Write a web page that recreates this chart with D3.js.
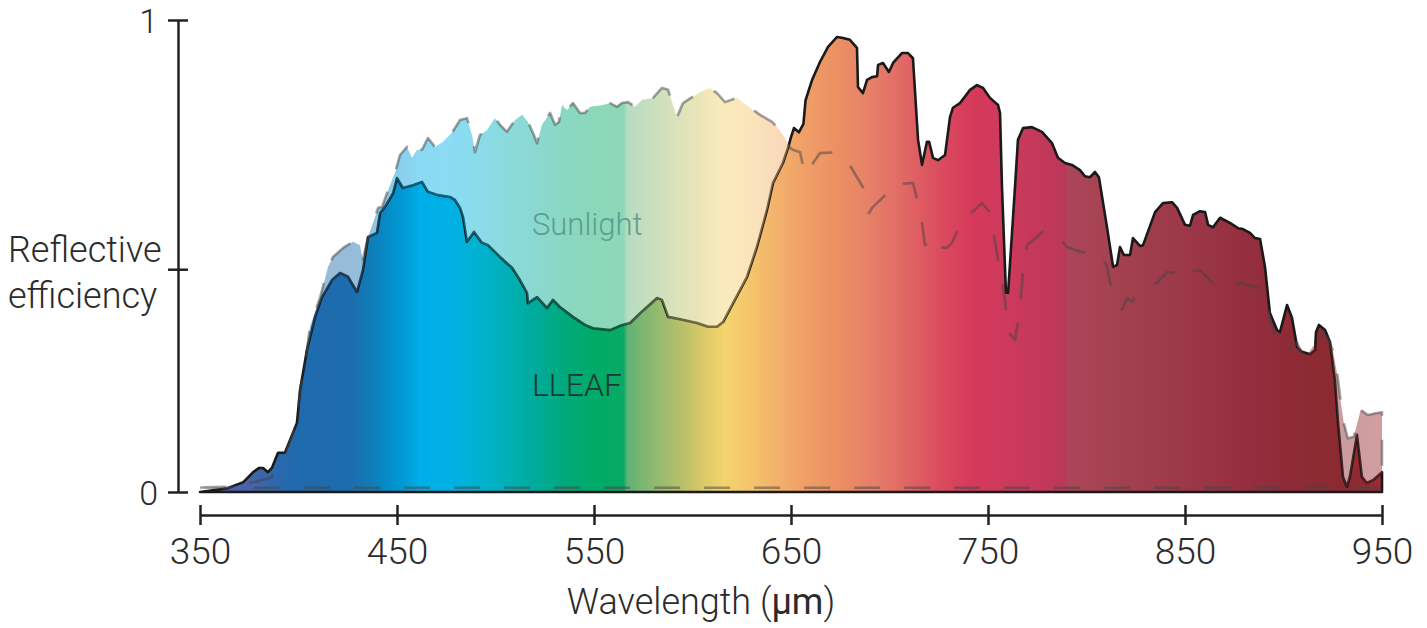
<!DOCTYPE html>
<html>
<head>
<meta charset="utf-8">
<script src="https://cdn.jsdelivr.net/npm/d3@7"></script>
<style>
  body { margin: 0; background: #fff; }
  text { font-family: Roboto, "Open Sans", sans-serif; font-weight: 300; }
</style>
</head>
<body>
<div id="chart"></div>
<script>
// Data
// =================================
var xTicks = [350, 450, 550, 650, 750, 850, 950];
var yTicks = [0, 0.472, 1];
var yTickLabels = ["0", "", "1"];

// LLEAF reflectance (solid outline)
var leafWl = [350, 364, 372, 377, 380, 382, 384.5, 386.5, 389.6, 393.1, 399.2, 400.8, 404.3, 408.4, 411.9, 417, 421.1, 425.1, 429.7, 432.7,
  435.3, 439.8, 441.4, 443.9, 448, 450, 453, 458.1, 462.7, 465.7, 470.8, 476.9, 479.4, 482, 483.5, 485.5, 489.1, 493.1, 496.2, 502.3,
  508.4, 512.4, 516, 516.5, 521.1, 526.1, 529.2, 532.7, 539.3, 545.4, 549.5, 558.1, 563.2, 568.3, 573.4, 576.9, 582, 584.5, 587.6, 592.6,
  602.3, 607.9, 612.4, 615.5, 620.6, 627.7, 632.7, 637.8, 640.9, 645.9, 648.5, 650, 651.5, 654, 656.3, 657.4, 660.7, 664.7, 668.8, 673.4,
  676.4, 679.9, 683.5, 684, 686.5, 688.6, 691.1, 693.7, 694.2, 696.7, 699.7, 701.8, 706.3, 709.4, 711.9, 714.5, 716.5, 719, 720.1, 722.1,
  724.6, 728.2, 730.7, 732.2, 735.8, 740.9, 744.4, 747.5, 751, 755.1, 756.1, 757.1, 759.1, 760.2, 763.7, 765.2, 767.8, 772.3, 777.4, 782.5,
  785.5, 789.1, 792.6, 796.7, 799.2, 801.8, 804.3, 806.3, 810.4, 813.5, 815.5, 817, 819, 822.1, 823.6, 827.2, 828.7, 834.8, 838.8, 843.4,
  846, 850, 852.5, 854.1, 857.6, 860.2, 861.7, 864.2, 867.8, 872.8, 876.9, 879.4, 883, 885.5, 888.1, 890.6, 893.1, 896.7, 898.2, 901.8,
  904.3, 906.9, 909.4, 913.5, 916, 916.5, 918, 921.1, 923.6, 926.1, 927.7, 930.2, 932.2, 933.7, 937.3, 939.8, 942.3, 945.4, 950];
var leafVal = [0, 0.008, 0.021, 0.042, 0.051, 0.051, 0.042, 0.051, 0.083, 0.083, 0.146, 0.216, 0.301, 0.371, 0.413, 0.449, 0.464, 0.456, 0.424, 0.47,
  0.54, 0.549, 0.591, 0.604, 0.633, 0.665, 0.644, 0.65, 0.657, 0.636, 0.629, 0.625, 0.619, 0.602, 0.583, 0.53, 0.551, 0.528, 0.523, 0.498,
  0.475, 0.449, 0.422, 0.4, 0.413, 0.39, 0.407, 0.392, 0.371, 0.354, 0.347, 0.343, 0.352, 0.358, 0.379, 0.392, 0.411, 0.407, 0.371, 0.367,
  0.358, 0.35, 0.35, 0.36, 0.4, 0.456, 0.519, 0.597, 0.655, 0.697, 0.729, 0.752, 0.771, 0.762, 0.78, 0.83, 0.873, 0.911, 0.943, 0.964,
  0.962, 0.958, 0.941, 0.858, 0.845, 0.873, 0.879, 0.881, 0.905, 0.909, 0.89, 0.909, 0.93, 0.93, 0.919, 0.746, 0.693, 0.742, 0.742, 0.708,
  0.703, 0.714, 0.794, 0.814, 0.824, 0.852, 0.862, 0.856, 0.835, 0.82, 0.803, 0.646, 0.422, 0.422, 0.646, 0.746, 0.771, 0.773, 0.763, 0.739,
  0.708, 0.697, 0.693, 0.682, 0.669, 0.667, 0.678, 0.667, 0.561, 0.477, 0.481, 0.519, 0.502, 0.502, 0.538, 0.521, 0.523, 0.593, 0.612, 0.614,
  0.602, 0.566, 0.564, 0.587, 0.595, 0.593, 0.566, 0.561, 0.581, 0.57, 0.559, 0.557, 0.549, 0.538, 0.536, 0.477, 0.379, 0.343, 0.339, 0.396,
  0.369, 0.307, 0.297, 0.292, 0.301, 0.339, 0.354, 0.343, 0.318, 0.237, 0.146, 0.032, 0.011, 0.032, 0.121, 0.032, 0.019, 0.025, 0.042];

// Sunlight (dashed outline)
var sunBase = 0.009;
var sunWl = [350, 352.5, 364, 372, 380, 386, 389.6, 393, 399.2, 400.8, 404.3, 405.8, 410.9, 415, 417.5, 422.6, 427.7, 431.2, 432.7, 435.3,
  437.8, 440.4, 442.4, 444.9, 447.5, 449, 451.5, 455.1, 457.6, 460.2, 462.7, 465.7, 469.3, 473.4, 477.9, 482, 485.5, 488.1, 489.6, 492.1,
  495.7, 499.7, 502.3, 505.8, 509.9, 513.5, 516.5, 519, 521.1, 523.6, 527.7, 530.2, 532.2, 533.8, 536.3, 539.3, 542.9, 545.4, 548, 554.6,
  558.1, 561.7, 564.2, 567.3, 570.8, 574.4, 580, 584.5, 587.6, 590.1, 592.1, 595.2, 603.8, 608.9, 612.4, 616.5, 622.6, 629.2, 634.3, 640.4,
  643.4, 647, 649.5, 651, 654.6, 657.1, 664.7, 673.9, 678.9, 686.5, 689.6, 691.1, 699.7, 701.3, 703.8, 706.9, 711.9, 716, 718, 723.1,
  724.6, 729.2, 731.7, 738.3, 741.9, 746.9, 751, 758.6, 760.2, 763.7, 766.2, 767.8, 769.8, 778.9, 784, 790.1, 797.7, 806.9, 810.4, 811.9,
  818, 820.6, 823.1, 826.1, 836.3, 840.9, 843.9, 846.4, 848.5, 857.6, 861.7, 866.8, 879, 885.5, 889.1, 890.6, 894.7, 897.2, 900.8, 906.9,
  909.4, 911.9, 919.9, 922.5, 925, 927.5, 929.1, 930.6, 932.6, 935.7, 939.2, 942.8, 946.8, 950];
var sunVal = [0.009, 0.01, 0.011, 0.015, 0.024, 0.03, 0.055, 0.078, 0.146, 0.216, 0.301, 0.35, 0.411, 0.477, 0.498, 0.517, 0.53, 0.523, 0.492, 0.54,
  0.57, 0.602, 0.604, 0.633, 0.661, 0.676, 0.714, 0.731, 0.708, 0.725, 0.725, 0.75, 0.731, 0.742, 0.761, 0.788, 0.792, 0.756, 0.72, 0.756,
  0.767, 0.792, 0.778, 0.763, 0.788, 0.799, 0.784, 0.761, 0.739, 0.778, 0.803, 0.778, 0.784, 0.82, 0.809, 0.824, 0.803, 0.803, 0.816, 0.82,
  0.824, 0.816, 0.824, 0.826, 0.816, 0.831, 0.835, 0.856, 0.852, 0.82, 0.794, 0.824, 0.847, 0.856, 0.845, 0.826, 0.835, 0.814, 0.799, 0.784,
  0.771, 0.75, 0.729, 0.725, 0.72, 0.672, 0.718, 0.72, 0.699, 0.646, 0.591, 0.602, 0.636, 0.631, 0.644, 0.653, 0.655, 0.587, 0.523, 0.54,
  0.519, 0.517, 0.528, 0.587, 0.593, 0.612, 0.593, 0.407, 0.339, 0.322, 0.386, 0.47, 0.523, 0.555, 0.549, 0.519, 0.508, 0.506, 0.477, 0.445,
  0.386, 0.411, 0.403, 0.422, 0.445, 0.466, 0.464, 0.477, 0.464, 0.47, 0.453, 0.432, 0.443, 0.434, 0.432, 0.413, 0.343, 0.316, 0.297, 0.316,
  0.294, 0.29, 0.337, 0.326, 0.301, 0.244, 0.189, 0.146, 0.114, 0.117, 0.174, 0.163, 0.167, 0.169];

// Spectrum colour stops (wavelength, colour)
var spectrumStops = [
  [350, "#5b5ca8"], [375, "#4862a9"], [390, "#2a68ad"], [400, "#1f6aad"], [428, "#1c6dae"], [440, "#0a82bd"], [452, "#0098d4"],
  [462, "#00aee8"], [478, "#00b1e4"], [492, "#00b2cf"], [506, "#00b0b6"], [520, "#00ab9c"], [535, "#00a97c"], [550, "#00aa67"],
  [565, "#08aa64"], [567, "#62b276"], [582, "#94ba70"], [596, "#bcc168"], [606, "#dcc968"], [616, "#f3d46c"], [628, "#f5c66c"],
  [642, "#f3b26b"], [656, "#f0a067"], [672, "#ec9163"], [692, "#e67e68"], [710, "#e06464"], [726, "#da4b5e"], [742, "#d6395a"],
  [758, "#ce3a5c"], [775, "#c4385b"], [789, "#bb3858"], [791, "#ab4658"], [820, "#a3404f"], [850, "#9c3848"], [880, "#952f40"],
  [910, "#8d2a33"], [932, "#8a2a30"], [950, "#9e2a31"]];

// Step 1: chart area
// =================================
var svgWidth = 1427;
var svgHeight = 628;

var x = d3.scaleLinear().domain([350, 950]).range([200, 1382]);
var y = d3.scaleLinear().domain([0, 1]).range([492, 20]);

var svg = d3.select("#chart")
  .append("svg")
  .attr("width", svgWidth)
  .attr("height", svgHeight);

var leaf = leafWl.map((w, i) => ({ w: w, v: leafVal[i] }));
var sun = sunWl.map((w, i) => ({ w: w, v: sunVal[i] }));

// Step 2: gradient + clip
// =================================
var defs = svg.append("defs");
defs.append("linearGradient")
  .attr("id", "spectrum")
  .attr("gradientUnits", "userSpaceOnUse")
  .attr("x1", x(350)).attr("x2", x(950))
  .attr("y1", 0).attr("y2", 0)
  .selectAll("stop")
  .data(spectrumStops)
  .enter()
  .append("stop")
  .attr("offset", d => (d[0] - 350) / 600)
  .attr("stop-color", d => d[1]);

// sunlight tint only shows above the leaf curve
defs.append("clipPath")
  .attr("id", "aboveLeaf")
  .append("path")
  .attr("d", d3.area().x(d => x(d.w)).y0(0).y1(d => y(d.v) + 1.4)(leaf));

var leafArea = d3.area().x(d => x(d.w)).y0(y(0)).y1(d => y(d.v));
var sunArea = d3.area().x(d => x(d.w)).y0(y(sunBase)).y1(d => y(d.v));

// Step 3: areas
// =================================
svg.append("path")
  .attr("d", leafArea(leaf))
  .attr("fill", "url(#spectrum)");

svg.append("path")
  .attr("d", leafArea(leaf))
  .attr("fill", "none")
  .attr("stroke", "#1a1a1a")
  .attr("stroke-width", 2.6)
  .attr("stroke-linejoin", "round");

svg.append("path")
  .attr("d", sunArea(sun))
  .attr("fill", "url(#spectrum)")
  .attr("fill-opacity", 0.46)
  .attr("clip-path", "url(#aboveLeaf)");

svg.append("path")
  .attr("d", sunArea(sun))
  .attr("fill", "none")
  .attr("stroke", "#444")
  .attr("stroke-opacity", 0.5)
  .attr("stroke-width", 2.6)
  .attr("stroke-linejoin", "round")
  .attr("stroke-dasharray", "26,24");

// Step 4: axes
// =================================
var leftAxis = d3.axisLeft(y)
  .tickValues(yTicks)
  .tickSize(10)
  .tickSizeOuter(0)
  .tickPadding(10)
  .tickFormat((d, i) => yTickLabels[i]);

var bottomAxis = d3.axisBottom(x)
  .tickValues(xTicks)
  .tickSize(10)
  .tickSizeOuter(0)
  .tickPadding(13);

var yAxisG = svg.append("g")
  .attr("transform", "translate(178,0)")
  .call(leftAxis);
yAxisG.selectAll(".tick line").attr("x1", 10);

var xAxisG = svg.append("g")
  .attr("transform", "translate(0,515)")
  .call(bottomAxis);
xAxisG.selectAll(".tick line").attr("y1", -10);

[yAxisG, xAxisG].forEach(function (g) {
  g.attr("font-size", null).attr("font-family", null);
  g.selectAll("path, line").attr("stroke", "#222").attr("stroke-width", 2.5);
  g.selectAll("text").attr("fill", "#2b2b2b").style("font-size", "37px");
});
yAxisG.selectAll("text").style("font-size", "34px").attr("dy", "0.36em");

// Step 5: labels
// =================================
svg.append("text")
  .attr("x", 701)
  .attr("y", 614)
  .attr("text-anchor", "middle")
  .attr("fill", "#2b2b2b")
  .style("font-size", "36px")
  .text("Wavelength (")
  .append("tspan")
  .style("font-weight", 400)
  .text("μm")
  .select(function () { return this.parentNode; })
  .append("tspan")
  .text(")");

svg.append("text")
  .attr("x", 8)
  .attr("y", 262)
  .attr("fill", "#2b2b2b")
  .style("font-size", "36px")
  .text("Reflective");

svg.append("text")
  .attr("x", 8)
  .attr("y", 308)
  .attr("fill", "#2b2b2b")
  .style("font-size", "36px")
  .text("efficiency");

svg.append("text")
  .attr("x", x(518.5))
  .attr("y", y(0.545))
  .attr("fill", "#5e9e8c")
  .style("font-size", "31px")
  .text("Sunlight");

svg.append("text")
  .attr("x", x(518.5))
  .attr("y", y(0.203))
  .attr("fill", "#1c3a32")
  .style("font-size", "32px")
  .text("LLEAF");
</script>
</body>
</html>
